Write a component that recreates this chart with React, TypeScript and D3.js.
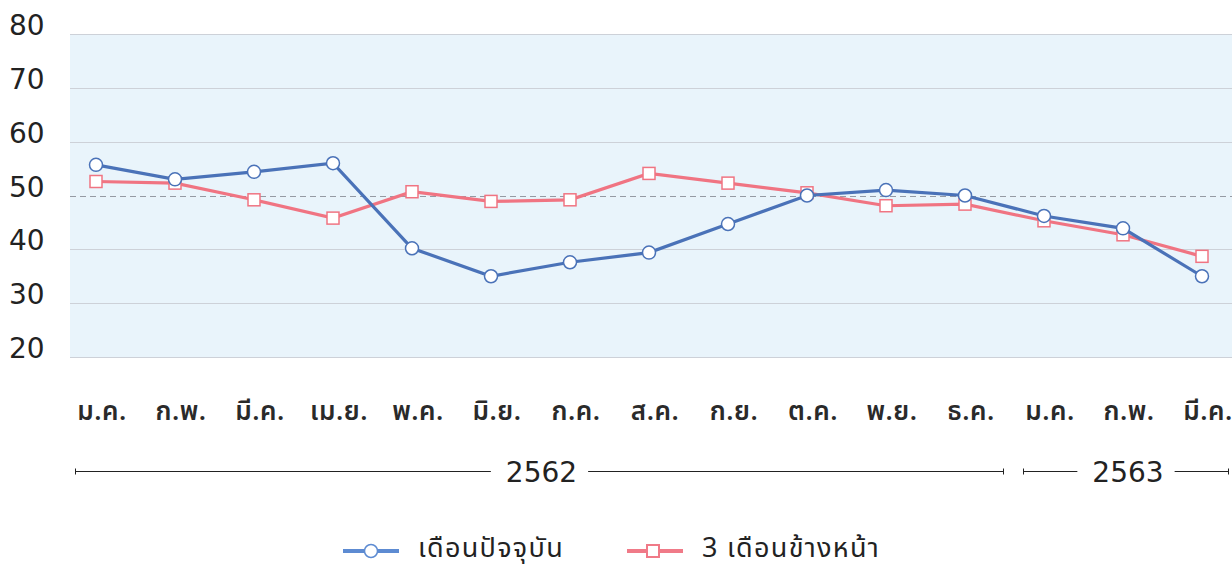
import React, { useEffect, useRef } from 'react';
import * as d3 from 'd3';

// month labels (Thai short month names), two years
const months = ['ม.ค.', 'ก.พ.', 'มี.ค.', 'เม.ย.', 'พ.ค.', 'มิ.ย.', 'ก.ค.', 'ส.ค.', 'ก.ย.', 'ต.ค.', 'พ.ย.', 'ธ.ค.', 'ม.ค.', 'ก.พ.', 'มี.ค.'];
const currentMonth = [55.7, 53.0, 54.4, 56.0, 40.2, 35.0, 37.6, 39.4, 44.7, 50.0, 51.0, 50.0, 46.2, 43.9, 35.0];
const nextThreeMonths = [52.6, 52.3, 49.2, 45.8, 50.7, 48.9, 49.2, 54.1, 52.3, 50.5, 48.1, 48.4, 45.3, 42.7, 38.7];
const yTicks = [20, 30, 40, 50, 60, 70, 80];
const years = [
    { label: '2562', from: 0, to: 11 },
    { label: '2563', from: 12, to: 14 },
];
const seriesNames = ['เดือนปัจจุบัน', '3 เดือนข้างหน้า'];

const W = 1232;
const H = 570;
const THAI = '"Noto Sans Thai", "Noto Sans", "DejaVu Sans", sans-serif';
const NUM = '"DejaVu Sans", "Noto Sans", sans-serif';
const BLUE = '#4a72b8';
const RED = '#f07482';

export default function App() {
    const ref = useRef<SVGSVGElement>(null);

    useEffect(() => {
        const svg = d3.select(ref.current);
        svg.selectAll('*').remove();

        const plot = { left: 70, right: 1232, top: 34, bottom: 357 };

        const x = d3.scalePoint<number>()
            .domain(d3.range(months.length))
            .range([96, 1202]);
        const step = x.step();

        const y = d3.scaleLinear()
            .domain([20, 80])
            .range([plot.bottom, plot.top]);

        // plot background
        svg.append('rect')
            .attr('x', plot.left)
            .attr('y', plot.top)
            .attr('width', plot.right - plot.left)
            .attr('height', plot.bottom - plot.top)
            .attr('fill', '#e9f4fb');

        // gridlines
        svg.append('g')
            .selectAll('line')
            .data(yTicks.filter(d => d !== 50))
            .enter()
            .append('line')
            .attr('x1', plot.left)
            .attr('x2', plot.right)
            .attr('y1', d => Math.round(y(d)) + 0.5)
            .attr('y2', d => Math.round(y(d)) + 0.5)
            .attr('stroke', '#cdd1d8')
            .attr('stroke-width', 1.2);

        // the 50 line is dashed
        svg.append('line')
            .attr('x1', plot.left)
            .attr('x2', plot.right)
            .attr('y1', Math.round(y(50)) + 0.5)
            .attr('y2', Math.round(y(50)) + 0.5)
            .attr('stroke', '#959aa3')
            .attr('stroke-width', 1)
            .attr('stroke-dasharray', '6,4');

        // y labels
        svg.append('g')
            .selectAll('text')
            .data(yTicks)
            .enter()
            .append('text')
            .attr('x', 9)
            .attr('y', d => y(d) + 1)
            .text(d => d)
            .style('font-family', NUM)
            .style('font-size', '28px')
            .attr('fill', '#222');

        const line = d3.line<number>()
            .x((d, i) => x(i) as number)
            .y(d => y(d));

        svg.append('path')
            .datum(nextThreeMonths)
            .attr('d', line)
            .attr('fill', 'none')
            .attr('stroke', RED)
            .attr('stroke-width', 3.2);

        svg.append('g')
            .selectAll('rect')
            .data(nextThreeMonths)
            .enter()
            .append('rect')
            .attr('x', (d, i) => (x(i) as number) - 6)
            .attr('y', d => y(d) - 6)
            .attr('width', 12)
            .attr('height', 12)
            .attr('fill', '#fff')
            .attr('stroke', RED)
            .attr('stroke-width', 1.5);

        svg.append('path')
            .datum(currentMonth)
            .attr('d', line)
            .attr('fill', 'none')
            .attr('stroke', BLUE)
            .attr('stroke-width', 3.2);

        svg.append('g')
            .selectAll('circle')
            .data(currentMonth)
            .enter()
            .append('circle')
            .attr('cx', (d, i) => x(i) as number)
            .attr('cy', d => y(d))
            .attr('r', 6.5)
            .attr('fill', '#fff')
            .attr('stroke', BLUE)
            .attr('stroke-width', 1.5);

        // month labels
        svg.append('g')
            .selectAll('text')
            .data(months)
            .enter()
            .append('text')
            .attr('x', (d, i) => (x(i) as number) + 6)
            .attr('y', 420)
            .attr('text-anchor', 'middle')
            .text(d => d)
            .style('font-family', THAI)
            .style('font-size', '26px')
            .style('font-weight', 600)
            .style('letter-spacing', '0.5px')
            .attr('fill', '#2a2a2a');

        // year brackets
        const yearY = 471.5;
        years.forEach(yr => {
            const x0 = Math.round((x(yr.from) as number) - 21) + 0.5;
            const x1 = Math.round(Math.min((x(yr.to) as number) + step / 2 - 2, W - 4)) + 0.5;
            const cx = (x0 + x1) / 2;
            const g = svg.append('g');
            const label = g.append('text')
                .attr('x', cx + 2)
                .attr('y', yearY + 10)
                .attr('text-anchor', 'middle')
                .text(yr.label)
                .style('font-family', NUM)
                .style('font-size', '28px')
                .attr('fill', '#222');
            const half = (label.node() as SVGTextElement).getComputedTextLength() / 2 + 13;
            [[x0, cx - half], [cx + half, x1]].forEach(([a, b]) => {
                g.append('line')
                    .attr('x1', a).attr('x2', b)
                    .attr('y1', yearY).attr('y2', yearY)
                    .attr('stroke', '#222').attr('stroke-width', 1);
            });
            [x0, x1].forEach(p => {
                g.append('line')
                    .attr('x1', p).attr('x2', p)
                    .attr('y1', yearY - 3).attr('y2', yearY + 3)
                    .attr('stroke', '#222').attr('stroke-width', 1);
            });
        });

        // legend
        const legendY = 551;
        const items = [
            { name: seriesNames[0], color: '#5d8bd2', shape: 'circle', x: 343 },
            { name: seriesNames[1], color: '#f07a88', shape: 'square', x: 627 },
        ];
        items.forEach(it => {
            const g = svg.append('g');
            g.append('line')
                .attr('x1', it.x).attr('x2', it.x + 56)
                .attr('y1', legendY).attr('y2', legendY)
                .attr('stroke', it.color).attr('stroke-width', 4);
            if (it.shape === 'circle') {
                g.append('circle')
                    .attr('cx', it.x + 28).attr('cy', legendY).attr('r', 6.5)
                    .attr('fill', '#fff').attr('stroke', it.color).attr('stroke-width', 1.5);
            } else {
                g.append('rect')
                    .attr('x', it.x + 20).attr('y', legendY - 6).attr('width', 12).attr('height', 12)
                    .attr('fill', '#fff').attr('stroke', it.color).attr('stroke-width', 2);
            }
            g.append('text')
                .attr('x', it.x + 75)
                .attr('y', legendY + 6)
                .text(it.name)
                .style('font-family', THAI)
                .style('font-size', '27px')
                .style('letter-spacing', '1.3px')
                .attr('fill', '#222');
        });
    }, []);

    return (
        <svg
            ref={ref}
            width={W}
            height={H}
            style={{ position: 'absolute', left: 0, top: 0, background: '#fff' }}
        />
    );
}
